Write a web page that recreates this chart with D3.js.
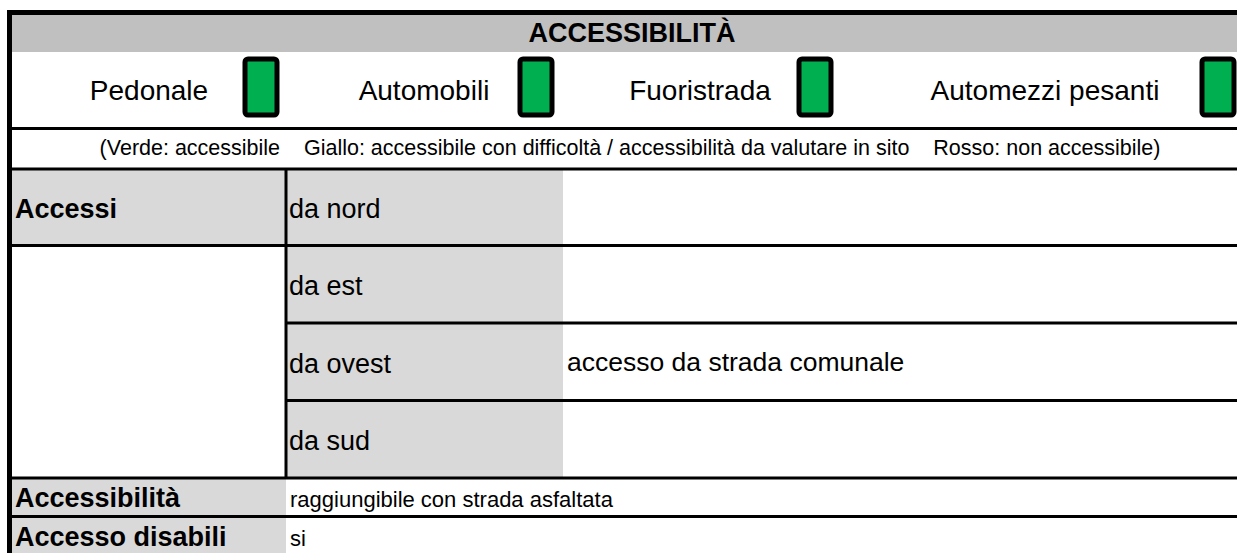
<!DOCTYPE html>
<html>
<head>
<meta charset="utf-8">
<script src="https://cdn.jsdelivr.net/npm/d3@7"></script>
<style>
  html, body { margin: 0; padding: 0; background: #fff; }
  svg { display: block; font-family: "Liberation Sans", Arial, sans-serif; }
</style>
</head>
<body>
<svg id="chart" width="1237" height="553"></svg>
<script>
// ---- data ----
const title = "ACCESSIBILITÀ";
const modes = ["Pedonale", "Automobili", "Fuoristrada", "Automezzi pesanti"];
const modeStatus = ["verde", "verde", "verde", "verde"];
const legendParts = ["(Verde: accessibile", "Giallo: accessibile con difficoltà / accessibilità da valutare in sito", "Rosso: non accessibile)"];
const accessLabel = "Accessi";
const directions = ["da nord", "da est", "da ovest", "da sud"];
const directionNotes = ["", "", "accesso da strada comunale", ""];
const bottomLabels = ["Accessibilità", "Accesso disabili"];
const bottomValues = ["raggiungibile con strada asfaltata", "si"];

// ---- layout ----
const W = 1237;
const svg = d3.select("#chart");
const statusColor = d3.scaleOrdinal().domain(["verde", "giallo", "rosso"]).range(["#00b050", "#ffc000", "#ff0000"]);
const L = { left: 12, colA: 286, colB: 563, right: W };

// header
svg.append("rect").attr("x", L.left).attr("y", 15).attr("width", W - L.left).attr("height", 37).attr("fill", "#c0c0c0");
svg.append("text").attr("x", 632).attr("y", 42).attr("text-anchor", "middle")
  .attr("font-weight", "bold").attr("font-size", 27).text(title);

// modes row
const labelCenters = [149, 424, 700, 1045];
const iconLeft = [245, 520, 799, 1202];
const modeG = svg.append("g").selectAll("g").data(modes).join("g");
modeG.append("text").attr("x", (d, i) => labelCenters[i]).attr("y", 100).attr("text-anchor", "middle")
  .attr("font-size", 28).text(d => d);
modeG.append("rect").attr("x", (d, i) => iconLeft[i]).attr("y", 59).attr("width", 32).attr("height", 56)
  .attr("rx", 3).attr("fill", (d, i) => statusColor(modeStatus[i])).attr("stroke", "#000").attr("stroke-width", 5);

// legend row
svg.append("text").attr("x", 630).attr("y", 155).attr("text-anchor", "middle").attr("font-size", 21.5)
  .attr("xml:space", "preserve").style("white-space", "pre").text(legendParts.join("    "));

// directions block
const yTop = 170, yBot = 478;
const y = d3.scaleBand().domain(directions).range([168, yBot]);
svg.append("rect").attr("x", L.colA).attr("y", yTop).attr("width", L.colB - L.colA).attr("height", yBot - yTop).attr("fill", "#d9d9d9");
svg.append("rect").attr("x", L.left).attr("y", yTop).attr("width", L.colA - L.left).attr("height", y(directions[1]) - yTop).attr("fill", "#d9d9d9");
svg.append("text").attr("x", 15).attr("y", y(directions[0]) + y.bandwidth() / 2 + 11)
  .attr("font-weight", "bold").attr("font-size", 27).text(accessLabel);
const dirG = svg.append("g").selectAll("g").data(directions).join("g");
dirG.append("text").attr("x", 289).attr("y", d => y(d) + y.bandwidth() / 2 + 11).attr("font-size", 27).text(d => d);
dirG.append("text").attr("x", 567).attr("y", d => y(d) + y.bandwidth() / 2 + 9).attr("font-size", 26.5)
  .text((d, i) => directionNotes[i]);

// bottom rows
const yb = d3.scaleBand().domain(bottomLabels).range([yBot, 555]);
svg.append("g").selectAll("rect").data(bottomLabels).join("rect")
  .attr("x", L.left).attr("y", d => yb(d)).attr("width", L.colA - L.left).attr("height", yb.bandwidth()).attr("fill", "#d9d9d9");
svg.append("g").selectAll("text").data(bottomLabels).join("text")
  .attr("x", 15).attr("y", d => yb(d) + yb.bandwidth() / 2 + 10).attr("font-weight", "bold").attr("font-size", 27).text(d => d);
svg.append("g").selectAll("text").data(bottomValues).join("text")
  .attr("x", 290).attr("y", (d, i) => yb(bottomLabels[i]) + yb.bandwidth() / 2 + 10).attr("font-size", 22).text(d => d);

// lines
const lines = svg.append("g").attr("stroke", "#000");
const hline = (x1, x2, yy, w) => lines.append("line").attr("x1", x1).attr("x2", x2).attr("y1", yy).attr("y2", yy).attr("stroke-width", w);
const vline = (xx, y1, y2, w) => lines.append("line").attr("x1", xx).attr("x2", xx).attr("y1", y1).attr("y2", y2).attr("stroke-width", w);
hline(7, W, 12.5, 5);
hline(L.left, W, 128.5, 3);
hline(L.left, W, 169, 3);
hline(L.left, W, y(directions[1]), 3);
[2, 3].forEach(k => hline(L.colA, W, y(directions[k]), 3));
hline(L.left, W, yBot, 3);
hline(L.left, W, yb(bottomLabels[1]), 3);
vline(L.colA, yTop, yBot, 3);
vline(9.5, 10, 553, 5);
</script>
</body>
</html>
